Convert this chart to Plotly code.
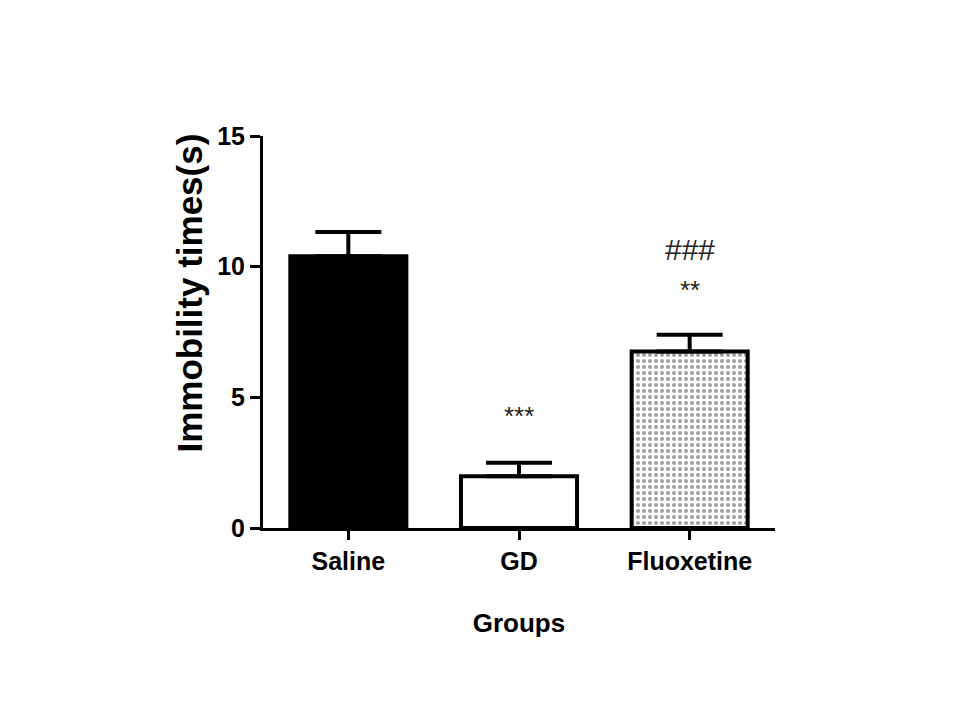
import plotly.graph_objects as go

groups = ["Saline", "GD", "Fluoxetine"]
means = [10.40, 1.98, 6.75]
sem = [0.93, 0.52, 0.64]
fill_colors = ["black", "white", "white"]
marks = ["", "***", "**"]
marks_y = [None, 4.3, 9.1]
hash_marks = ["", "", "###"]
hash_y = [None, None, 10.65]

font_main = "Liberation Sans, Arial, sans-serif"

fig = go.Figure()
fig.add_trace(go.Bar(
    x=groups, y=means, width=0.68,
    marker=dict(
        color=fill_colors,
        line=dict(color="black", width=4),
        pattern=dict(shape=["", "", "."], fgcolor="#404040", bgcolor="white",
                     size=6, solidity=0.38, fillmode="overlay"),
    ),
    error_y=dict(type="data", symmetric=False, array=sem,
                 arrayminus=[0, 0, 0], color="black", thickness=4, width=33),
    showlegend=False,
))

for g, m, y in zip(groups, marks, marks_y):
    if m:
        fig.add_annotation(x=g, y=y, text=m, showarrow=False,
                           font=dict(family=font_main, size=26, color="#222"))
for g, m, y in zip(groups, hash_marks, hash_y):
    if m:
        fig.add_annotation(x=g, y=y, text=m, showarrow=False,
                           font=dict(family=font_main, size=30, color="#222"))

# y-axis title (placed as rotated text, shifted upward like the original)
fig.add_annotation(xref="paper", yref="paper", x=-0.143, y=0.60,
                   text="<b>Immobility times(s)</b>", textangle=-90,
                   showarrow=False, xanchor="center", yanchor="middle",
                   font=dict(family=font_main, size=35, color="black"))

fig.update_layout(
    width=960, height=720,
    margin=dict(l=255, r=193, t=128, b=200, pad=0),
    plot_bgcolor="white", paper_bgcolor="white",
    font=dict(family=font_main, color="black"),
)
fig.update_xaxes(
    type="category", range=[-0.5, 2.5],
    showline=True, linecolor="black", linewidth=3,
    ticks="outside", ticklen=9, tickwidth=3, tickcolor="black",
    tickfont=dict(family=font_main, size=25, color="black", weight="bold"),
    title=dict(text="<b>Groups</b>", font=dict(family=font_main, size=26),
               standoff=40),
    showgrid=False, zeroline=False,
)
fig.update_yaxes(
    range=[0, 15], tickvals=[0, 5, 10, 15],
    showline=True, linecolor="black", linewidth=3,
    ticks="outside", ticklen=10, tickwidth=3, tickcolor="black",
    tickfont=dict(family=font_main, size=25, color="black", weight="bold"),
    showgrid=False, zeroline=False,
)

fig.write_html("out.html")
